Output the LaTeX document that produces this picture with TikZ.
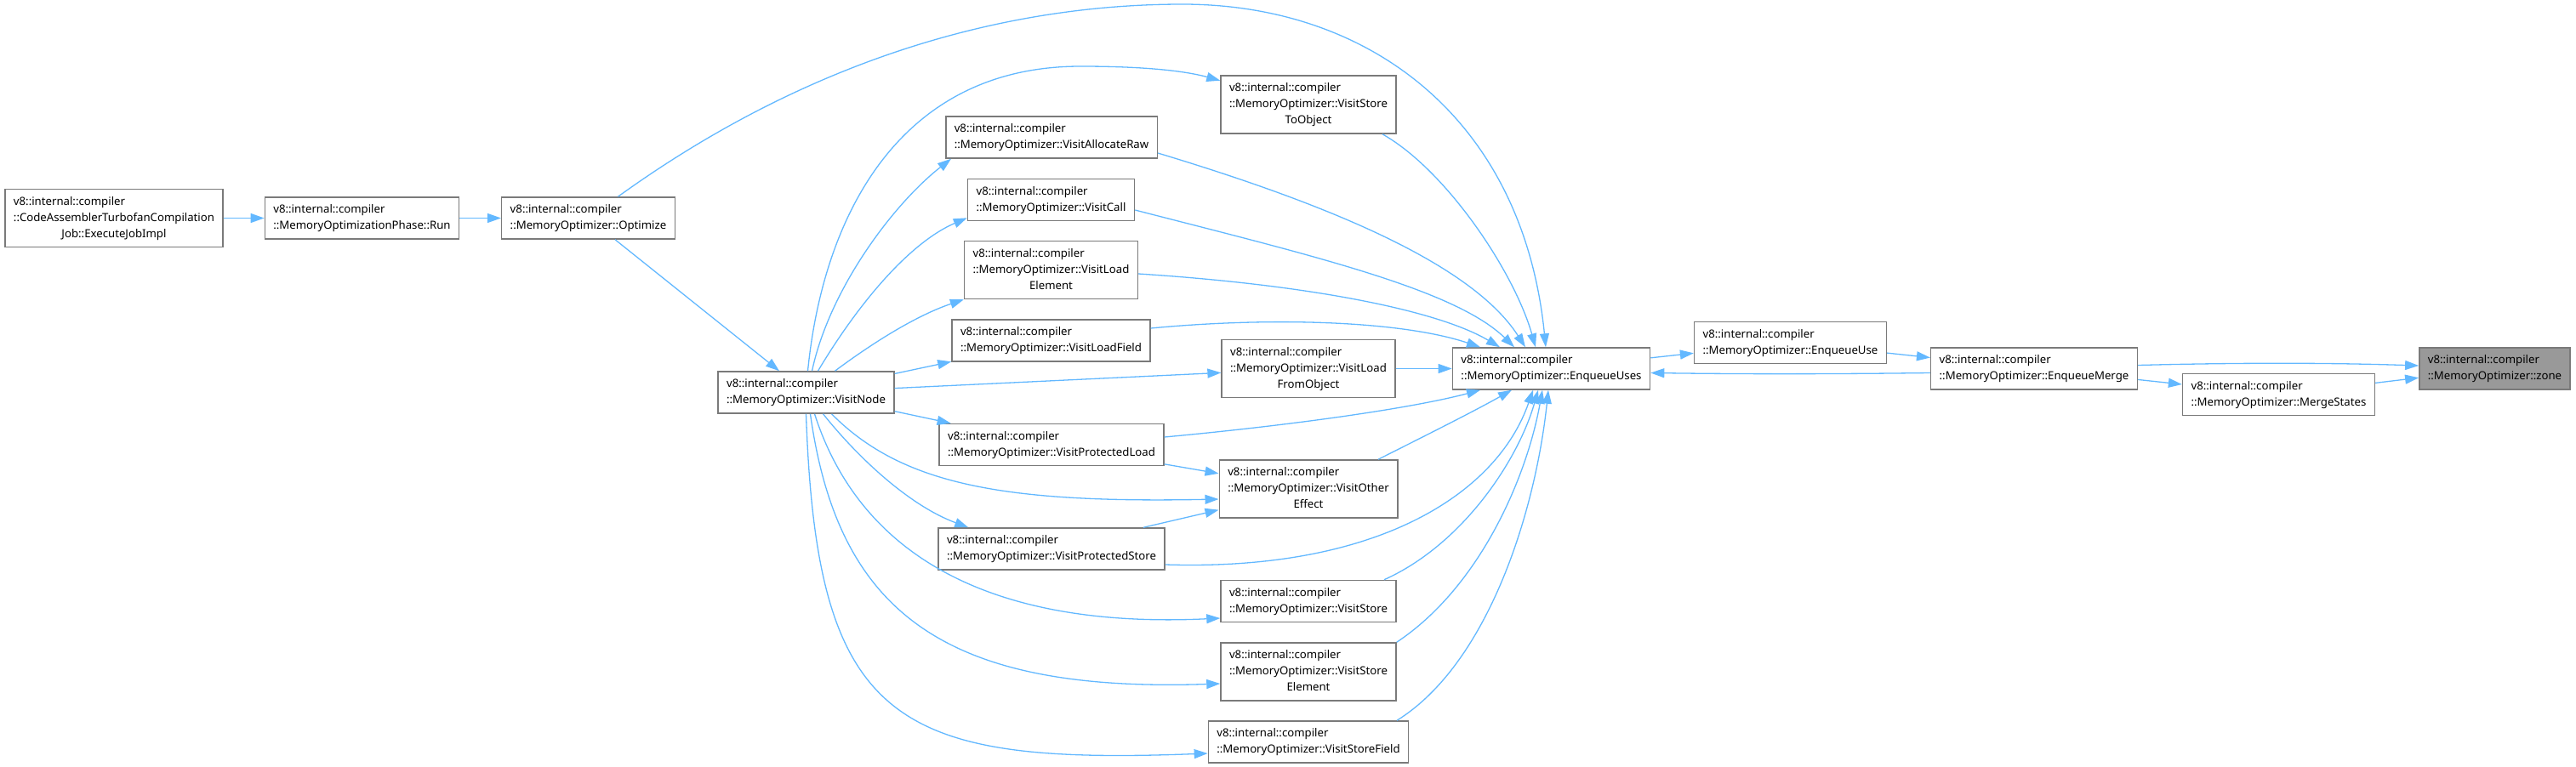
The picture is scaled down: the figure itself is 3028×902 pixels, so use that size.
\documentclass[tikz,border=0pt]{standalone}
\usepackage{fontspec}
\setmainfont{Noto Sans}
\usetikzlibrary{arrows.meta}
\definecolor{edgeblue}{HTML}{63B8FF}
\definecolor{boxgray}{HTML}{7A7A7A}
\definecolor{curgray}{HTML}{999999}
\newcommand{\twol}[2]{\begin{tabular}{@{}l@{}}#1\\#2\end{tabular}}
\newcommand{\threel}[3]{\begin{tabular}{@{}l@{}}#1\\#2\\\multicolumn{1}{@{}c@{}}{#3}\end{tabular}}
\newcommand{\vic}{v8::internal::compiler}
\tikzset{
  fn/.style={draw=boxgray,fill=white,line width=1.5pt,inner xsep=10pt,inner ysep=0pt,
    minimum height=49pt,font=\fontsize{13.2}{19}\selectfont},
  fn3/.style={fn,minimum height=68pt},
  cur/.style={fn,fill=curgray},
  calls/.style={draw=edgeblue,line width=1.3pt,-{Triangle[length=16pt,width=11pt]}}
}
\begin{document}
\begin{tikzpicture}[x=1pt,y=-1pt]
\useasboundingbox (0,0) rectangle (3028,902);
\node[fn3] (exec) at (134,256.5) {\threel{\vic}{::CodeAssemblerTurbofanCompilation}{Job::ExecuteJobImpl}};
\node[fn] (run) at (425.5,256.5) {\twol{\vic}{::MemoryOptimizationPhase::Run}};
\node[fn] (optimize) at (691.5,256.5) {\twol{\vic}{::MemoryOptimizer::Optimize}};
\node[fn] (visitnode) at (947.5,461.5) {\twol{\vic}{::MemoryOptimizer::VisitNode}};
\node[fn3] (storeobj) at (1538,123) {\threel{\vic}{::MemoryOptimizer::VisitStore}{ToObject}};
\node[fn] (allocraw) at (1236,161.5) {\twol{\vic}{::MemoryOptimizer::VisitAllocateRaw}};
\node[fn] (call) at (1235.5,235) {\twol{\vic}{::MemoryOptimizer::VisitCall}};
\node[fn3] (loadelem) at (1235.5,317.5) {\threel{\vic}{::MemoryOptimizer::VisitLoad}{Element}};
\node[fn] (loadfield) at (1235.5,400.5) {\twol{\vic}{::MemoryOptimizer::VisitLoadField}};
\node[fn3] (loadobj) at (1538,433.5) {\threel{\vic}{::MemoryOptimizer::VisitLoad}{FromObject}};
\node[fn] (protload) at (1236,523) {\twol{\vic}{::MemoryOptimizer::VisitProtectedLoad}};
\node[fn3] (othereff) at (1538,575) {\threel{\vic}{::MemoryOptimizer::VisitOther}{Effect}};
\node[fn] (protstore) at (1236,645.5) {\twol{\vic}{::MemoryOptimizer::VisitProtectedStore}};
\node[fn] (store) at (1538,707) {\twol{\vic}{::MemoryOptimizer::VisitStore}};
\node[fn3] (storeelem) at (1538,790) {\threel{\vic}{::MemoryOptimizer::VisitStore}{Element}};
\node[fn] (storefield) at (1538,872.5) {\twol{\vic}{::MemoryOptimizer::VisitStoreField}};
\node[fn] (enqueueuses) at (1823.5,433.5) {\twol{\vic}{::MemoryOptimizer::EnqueueUses}};
\node[fn] (enqueueuse) at (2104.5,403) {\twol{\vic}{::MemoryOptimizer::EnqueueUse}};
\node[fn] (enqueuemerge) at (2391,433.5) {\twol{\vic}{::MemoryOptimizer::EnqueueMerge}};
\node[fn] (mergestates) at (2678.5,464) {\twol{\vic}{::MemoryOptimizer::MergeStates}};
\node[cur] (zone) at (2932.5,433.5) {\twol{\vic}{::MemoryOptimizer::zone}};
% callers of VisitNode and EnqueueUses
\draw[calls] (exec) -- (run);
\draw[calls] (run) -- (optimize);
\draw[calls] (optimize) -- (visitnode);
\draw[calls] (optimize) .. controls (950,70) and (1180,5) .. (1390,5)
  .. controls (1610,5) and (1790,140) .. ([xshift=-6.5pt]enqueueuses.north);
\draw[calls] ([xshift=2pt]visitnode.north) .. controls (968,250) and (1060,78) .. (1270,78)
  .. controls (1350,78) and (1395,84) .. (storeobj);
\draw[calls] ([xshift=7pt]visitnode.north) .. controls (975,340) and (1050,240) .. ([xshift=7pt]allocraw.south west);
\draw[calls] ([xshift=14pt]visitnode.north) .. controls (1010,355) and (1070,285) .. ([yshift=4pt]call.south west);
\draw[calls] ([xshift=34pt]visitnode.north) .. controls (1030,400) and (1080,370) .. (loadelem.south west);
\draw[calls] (visitnode) -- (loadfield);
\draw[calls] (visitnode) -- (loadobj);
\draw[calls] (visitnode) -- (protload);
\draw[calls] ([xshift=30pt]visitnode.south) .. controls (1060,570) and (1180,592) .. ([yshift=-12pt]othereff.west);
\draw[calls] ([xshift=20pt]visitnode.south) .. controls (1010,540) and (1070,595) .. ([xshift=36pt]protstore.north west);
\draw[calls] ([xshift=10pt]visitnode.south) .. controls (1010,650) and (1160,740) .. ([yshift=-20pt]store.west);
\draw[calls] ([xshift=5pt]visitnode.south) .. controls (985,720) and (1110,815) .. ([yshift=-14pt]storeelem.west);
\draw[calls] (visitnode.south) .. controls (960,850) and (1050,900) .. ([yshift=-13.5pt]storefield.west);
\draw[calls] (protload) -- (othereff);
\draw[calls] (protstore) -- (othereff);
\draw[calls] ([xshift=87pt]storeobj.south) .. controls (1700,200) and (1780,320) .. ([xshift=-18.5pt]enqueueuses.north);
\draw[calls] ([yshift=-18.5pt]allocraw.east) .. controls (1560,240) and (1730,310) .. ([xshift=-30.5pt]enqueueuses.north);
\draw[calls] ([yshift=-12pt]call.east) .. controls (1540,300) and (1710,340) .. ([xshift=-43.5pt]enqueueuses.north);
\draw[calls] ([yshift=-4.5pt]loadelem.east) .. controls (1540,335) and (1690,365) .. ([xshift=-60.5pt]enqueueuses.north);
\draw[calls] ([yshift=14.5pt]loadfield.east) .. controls (1500,372) and (1650,378) .. ([xshift=-83.5pt]enqueueuses.north);
\draw[calls] (loadobj) -- (enqueueuses);
\draw[calls] ([yshift=9pt]protload.east) .. controls (1520,500) and (1660,480) .. ([xshift=-83.5pt]enqueueuses.south);
\draw[calls] ([xshift=82pt]othereff.north) .. controls (1680,510) and (1730,485) .. ([xshift=-46.5pt]enqueueuses.south);
\draw[calls] ([yshift=-18.5pt]protstore.east) .. controls (1620,672) and (1760,580) .. ([xshift=-21.5pt]enqueueuses.south);
\draw[calls] ([xshift=89pt]store.north) .. controls (1720,640) and (1785,540) .. ([xshift=-15.5pt]enqueueuses.south);
\draw[calls] (storeelem.north east) .. controls (1740,690) and (1795,560) .. ([xshift=-10.5pt]enqueueuses.south);
\draw[calls] ([xshift=104pt]storefield.north) .. controls (1750,780) and (1805,600) .. ([xshift=-3.5pt]enqueueuses.south);
% EnqueueUses chain to zone
\draw[calls] (enqueueuses) -- (enqueueuse);
\draw[calls] (enqueueuse) -- (enqueuemerge);
\draw[calls] ([yshift=-5pt]enqueuemerge.west) .. controls (2150,440) and (2050,440) .. ([yshift=-5pt]enqueueuses.east);
\draw[calls] ([yshift=4pt]enqueuemerge.east) .. controls (2650,426) and (2750,427) .. ([yshift=3.5pt]zone.west);
\draw[calls] (enqueuemerge) -- (mergestates);
\draw[calls] (mergestates) -- (zone);
\end{tikzpicture}
\end{document}
